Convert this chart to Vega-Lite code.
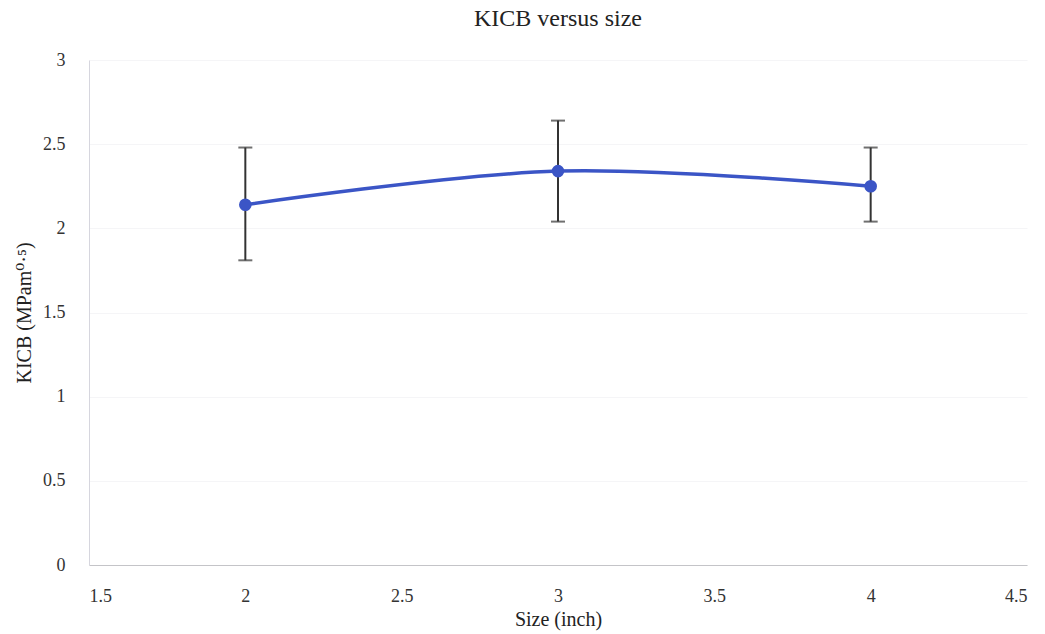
{
  "$schema": "https://vega.github.io/schema/vega-lite/v6.json",
  "autosize": {"type": "none"},
  "width": 938,
  "height": 505,
  "padding": {"left": 89, "top": 60, "right": 18, "bottom": 69},
  "background": "white",
  "title": {
    "text": "KICB versus size",
    "font": "'Times New Roman', 'Liberation Serif', 'DejaVu Serif', serif",
    "fontSize": 24,
    "fontWeight": "normal",
    "color": "#222222",
    "offset": 20
  },
  "data": {
    "values": [
      {"size": 2, "k": 2.14, "lo": 1.81, "hi": 2.48},
      {"size": 3, "k": 2.34, "lo": 2.04, "hi": 2.64},
      {"size": 4, "k": 2.25, "lo": 2.04, "hi": 2.48}
    ]
  },
  "config": {
    "view": {"stroke": null}
  },
  "encoding": {
    "x": {
      "field": "size",
      "type": "quantitative",
      "scale": {"domain": [1.5, 4.5], "nice": false, "zero": false},
      "axis": {
        "title": "Size (inch)",
        "values": [1.5, 2, 2.5, 3, 3.5, 4, 4.5],
        "format": "~g",
        "grid": false,
        "ticks": false,
        "labelFont": "'Times New Roman', 'Liberation Serif', 'DejaVu Serif', serif",
        "titleFont": "'Times New Roman', 'Liberation Serif', 'DejaVu Serif', serif",
        "labelFontSize": 18,
        "titleFontSize": 20,
        "titleFontWeight": "normal",
        "labelColor": "#333333",
        "titleColor": "#222222",
        "domainColor": "#c4c4c8",
        "domainWidth": 1.2,
        "labelPadding": 22,
        "titlePadding": 4
      }
    }
  },
  "layer": [
    {
      "mark": {"type": "rule", "color": "#333333", "strokeWidth": 2},
      "encoding": {
        "y": {
          "field": "lo",
          "type": "quantitative",
          "scale": {"domain": [0, 3], "nice": false},
          "axis": {
            "title": "KICB (MPam⁰·⁵)",
            "values": [0, 0.5, 1, 1.5, 2, 2.5, 3],
            "format": "~g",
            "grid": true,
            "ticks": false,
            "gridColor": "#f5f5f7",
            "labelFont": "'Times New Roman', 'Liberation Serif', 'DejaVu Serif', serif",
            "titleFont": "'Times New Roman', 'Liberation Serif', 'DejaVu Serif', serif",
            "labelFontSize": 18,
            "titleFontSize": 20,
            "titleFontWeight": "normal",
            "labelColor": "#333333",
            "titleColor": "#222222",
            "domainColor": "#d6d6de",
            "labelPadding": 24,
            "titlePadding": 8
          }
        },
        "y2": {"field": "hi"}
      }
    },
    {
      "mark": {"type": "tick", "orient": "horizontal", "color": "#333333", "thickness": 2, "size": 14},
      "encoding": {"y": {"field": "lo", "type": "quantitative"}}
    },
    {
      "mark": {"type": "tick", "orient": "horizontal", "color": "#333333", "thickness": 2, "size": 14},
      "encoding": {"y": {"field": "hi", "type": "quantitative"}}
    },
    {
      "mark": {"type": "line", "color": "#3b55c6", "strokeWidth": 3.5, "interpolate": "cardinal"},
      "encoding": {"y": {"field": "k", "type": "quantitative"}}
    },
    {
      "mark": {"type": "point", "filled": true, "opacity": 1, "color": "#3b55c6", "size": 160},
      "encoding": {"y": {"field": "k", "type": "quantitative"}}
    }
  ]
}
